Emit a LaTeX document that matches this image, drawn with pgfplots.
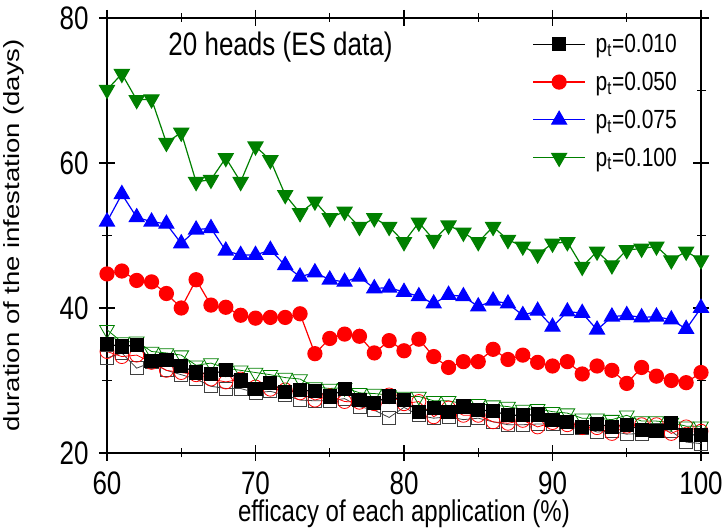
\documentclass[border=0pt]{standalone}
\usepackage{pgfplots}
\pgfplotsset{compat=1.18}
\usepackage{graphicx}
\usepackage{fontspec}
\setmainfont{Liberation Sans}
\definecolor{ogreen}{RGB}{0,128,0}
\newcommand{\vs}[1]{\scalebox{1}[1.25]{#1}}
\begin{document}
\begin{tikzpicture}
\begin{axis}[
  name=ax,
  scale only axis,
  width=594bp, height=435bp,
  xmin=60, xmax=100, ymin=20, ymax=80,
  xtick={60,70,80,90,100}, ytick={20,40,60,80},
  minor x tick num=1, minor y tick num=1,
  tick align=center,
  major tick length=16bp, minor tick length=9bp,
  axis line style={line width=1.5bp},
  every tick/.style={line width=1.3bp, black},
  /pgf/number format/assume math mode=true,
  xticklabel={\vs{\pgfmathprintnumber{\tick}}},
  yticklabel={\vs{\pgfmathprintnumber{\tick}}},
  ticklabel style={font=\fontsize{26bp}{30bp}\selectfont},
  xticklabel style={yshift=-7bp},
  yticklabel style={xshift=-7bp},
  xlabel={\vs{efficacy of each application (\%)}},
  ylabel={\scalebox{1.25}[1]{duration of the infestation (days)}},
  xlabel style={font=\fontsize{24bp}{28bp}\selectfont, at={(axis description cs:0.5,-0.14)}, anchor=center},
  ylabel style={font=\fontsize{22bp}{26bp}\selectfont, at={(axis description cs:-0.157,0.5)}, anchor=center},
  legend cell align=left,
  legend style={at={(0.968,0.972)}, anchor=north east, draw=none, fill=none,
    font=\fontsize{21bp}{25bp}\selectfont, row sep=14bp,
    /tikz/every odd column/.style={column sep=8bp}},
  legend image code/.code={\draw[mark repeat=2,mark phase=2] plot coordinates {(0bp,0bp)(26bp,0bp)(52bp,0bp)};},
]
% open series (not in legend)
\addplot[forget plot, black!75, line width=0.8bp, mark=square, mark size=6.5bp, mark options={solid, fill=white, black!75}] coordinates {
(60,33.1)(61,33.8)(62,31.7)(63,32.5)(64,31.4)(65,30.8)(66,30.2)(67,29.2)(68,28.9)(69,28.9)
(70,28.3)(71,28.5)(72,28.0)(73,27.3)(74,27.2)(75,27.2)(76,27.5)(77,26.4)(78,25.9)(79,24.9)
(80,26.3)(81,25.2)(82,24.8)(83,25.0)(84,24.6)(85,24.8)(86,24.3)(87,23.9)(88,23.9)(89,24.0)
(90,24.0)(91,23.4)(92,23.5)(93,22.9)(94,23.0)(95,22.6)(96,22.7)(97,23.2)(98,23.0)(99,21.5)(100,21.3)};
\addplot[forget plot, red, line width=0.8bp, mark=o, mark size=7bp, mark options={solid, fill=white, red}] coordinates {
(60,34.0)(61,33.3)(62,33.5)(63,32.5)(64,31.4)(65,31.1)(66,30.8)(67,30.2)(68,29.8)(69,30.2)
(70,29.1)(71,28.8)(72,28.7)(73,28.3)(74,27.3)(75,27.9)(76,27.1)(77,27.0)(78,26.8)(79,28.0)
(80,26.8)(81,27.1)(82,25.0)(83,26.2)(84,25.2)(85,25.2)(86,24.3)(87,24.1)(88,24.5)(89,23.6)
(90,24.2)(91,23.9)(92,23.5)(93,23.5)(94,22.7)(95,23.7)(96,23.9)(97,23.9)(98,22.7)(99,23.6)(100,23.0)};
\addplot[forget plot, ogreen, line width=0.8bp, mark=triangle, mark size=8.5bp, mark options={solid, fill=white, ogreen, rotate=180}] coordinates {
(60,37.0)(61,35.3)(62,35.4)(63,34.0)(64,33.8)(65,33.5)(66,32.1)(67,32.4)(68,31.7)(69,31.4)
(70,31.1)(71,30.8)(72,30.4)(73,30.2)(74,29.1)(75,28.9)(76,29.0)(77,28.3)(78,28.2)(79,28.0)
(80,27.8)(81,27.8)(82,27.2)(83,27.2)(84,26.8)(85,26.8)(86,26.6)(87,26.4)(88,26.0)(89,26.1)
(90,25.7)(91,25.5)(92,24.8)(93,24.8)(94,24.6)(95,25.2)(96,24.4)(97,24.4)(98,24.2)(99,23.7)(100,23.7)};
% filled series
\addplot[black, line width=1.2bp, mark=square*, mark size=6.5bp, mark options={solid}] coordinates {
(60,35.0)(61,34.7)(62,34.9)(63,32.7)(64,32.8)(65,32.0)(66,31.1)(67,30.9)(68,31.4)(69,30.0)
(70,28.8)(71,29.7)(72,28.4)(73,28.7)(74,28.5)(75,27.8)(76,28.8)(77,27.3)(78,26.9)(79,27.8)
(80,27.3)(81,25.6)(82,26.2)(83,25.7)(84,26.4)(85,25.9)(86,25.8)(87,25.2)(88,25.2)(89,25.3)
(90,24.6)(91,24.3)(92,23.6)(93,24.0)(94,23.6)(95,23.9)(96,23.2)(97,23.0)(98,24.1)(99,22.5)(100,22.5)};
\addlegendentry{\vs{p\textsubscript{t}=0.010}}
\addplot[red, line width=1.2bp, mark=*, mark size=7bp, mark options={solid}] coordinates {
(60,44.7)(61,45.1)(62,43.8)(63,43.6)(64,42.0)(65,40.0)(66,43.9)(67,40.4)(68,40.1)(69,39.0)
(70,38.6)(71,38.7)(72,38.7)(73,39.2)(74,33.7)(75,35.8)(76,36.4)(77,36.1)(78,33.8)(79,35.5)
(80,34.1)(81,35.7)(82,33.3)(83,31.8)(84,32.6)(85,32.6)(86,34.3)(87,32.9)(88,33.5)(89,32.5)
(90,32.0)(91,32.6)(92,30.9)(93,32.0)(94,31.4)(95,29.6)(96,31.8)(97,30.6)(98,30.0)(99,29.7)(100,31.1)};
\addlegendentry{\vs{p\textsubscript{t}=0.050}}
\addplot[blue, line width=1.2bp, mark=triangle*, mark size=8.5bp, mark options={solid}] coordinates {
(60,51.9)(61,55.7)(62,52.5)(63,51.9)(64,51.6)(65,48.9)(66,50.8)(67,51.0)(68,47.9)(69,47.3)
(70,47.3)(71,48.0)(72,45.9)(73,44.3)(74,44.9)(75,43.9)(76,43.6)(77,44.3)(78,42.7)(79,42.8)
(80,42.2)(81,41.6)(82,40.6)(83,41.8)(84,41.6)(85,40.2)(86,41.0)(87,40.6)(88,39.0)(89,39.6)
(90,37.4)(91,39.5)(92,39.3)(93,37.0)(94,38.8)(95,39.0)(96,38.7)(97,38.8)(98,38.4)(99,37.1)(100,40.0)};
\addlegendentry{\vs{p\textsubscript{t}=0.075}}
\addplot[ogreen, line width=1.2bp, mark=triangle*, mark size=8.5bp, mark options={solid, rotate=180}] coordinates {
(60,70.1)(61,72.3)(62,68.7)(63,68.8)(64,62.8)(65,64.2)(66,57.4)(67,57.7)(68,60.7)(69,57.4)
(70,62.3)(71,60.4)(72,55.6)(73,53.1)(74,54.7)(75,52.4)(76,53.3)(77,51.2)(78,52.4)(79,51.2)
(80,49.1)(81,51.8)(82,49.4)(83,51.4)(84,50.4)(85,49.1)(86,51.2)(87,49.4)(88,48.5)(89,47.4)
(90,48.9)(91,49.1)(92,45.7)(93,47.8)(94,45.9)(95,48.0)(96,48.2)(97,48.5)(98,46.6)(99,47.8)(100,46.6)};
\addlegendentry{\vs{p\textsubscript{t}=0.100}}
\node[anchor=west, font=\fontsize{26bp}{30bp}\selectfont] at (axis cs:63.9,76.0) {\vs{20 heads (ES data)}};
\end{axis}
\pgfresetboundingbox
\path[use as bounding box] ([xshift=-107bp,yshift=-78bp]ax.south west) rectangle ([xshift=24bp,yshift=18bp]ax.north east);
\end{tikzpicture}
\end{document}
